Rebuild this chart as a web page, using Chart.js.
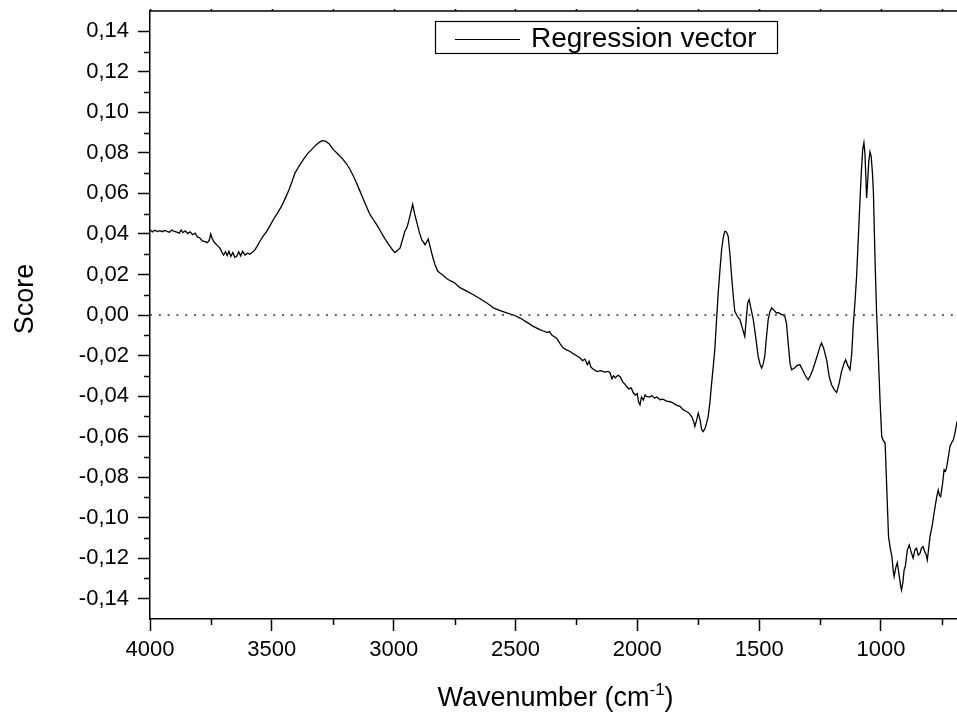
<!DOCTYPE html>
<html>
<head>
<meta charset="utf-8">
<script src="https://cdn.jsdelivr.net/npm/chart.js@4.4.0/dist/chart.umd.min.js"></script>
<style>
  html, body { margin: 0; padding: 0; background: #fff; }
</style>
</head>
<body>
<canvas id="chart" width="957" height="715"></canvas>
<script>
// ── Data ───────────────────────────────────────────────────────────────────

const WAVENUMBER = [
  4000,3990,3980,3970,3960,3950,3940,3930,3920,3910,3900,3890,3880,3872,3865,3855,3845,3835,3825,3815,
  3805,3795,3785,3775,3765,3757,3751,3745,3737,3725,3713,3705,3698,3690,3683,3676,3668,3660,3652,3644,
  3636,3628,3620,3610,3600,3590,3580,3570,3560,3549,3535,3521,3508,3494,3477,3460,3446,3432,3418,3405,
  3388,3371,3354,3336,3320,3305,3294,3280,3265,3248,3228,3207,3193,3179,3165,3152,3138,3124,3110,3097,
  3083,3070,3056,3042,3028,3015,3005,2995,2985,2974,2964,2954,2946,2940,2931,2922,2914,2906,2895,2885,
  2871,2864,2858,2851,2844,2837,2830,2820,2810,2796,2783,2766,2749,2728,2700,2673,2645,2618,2600,2591,
  2563,2536,2508,2481,2454,2427,2400,2385,2372,2360,2350,2331,2318,2304,2290,2276,2262,2250,2235,2225,
  2215,2205,2198,2190,2180,2166,2150,2135,2120,2112,2104,2098,2090,2080,2071,2060,2052,2044,2035,2025,
  2016,2008,2000,1995,1989,1983,1975,1968,1962,1950,1940,1930,1920,1907,1895,1880,1865,1852,1840,1825,
  1811,1800,1790,1784,1775,1768,1764,1757,1750,1742,1736,1730,1722,1715,1709,1702,1695,1688,1682,1675,
  1668,1661,1654,1647,1641,1634,1627,1620,1613,1606,1600,1590,1579,1570,1563,1559,1552,1547,1541,1535,
  1524,1514,1504,1497,1490,1484,1477,1470,1463,1456,1449,1440,1429,1420,1410,1401,1394,1388,1380,1373,
  1367,1355,1345,1333,1320,1310,1299,1290,1280,1271,1260,1250,1244,1235,1223,1213,1203,1192,1182,1172,
  1162,1152,1145,1136,1127,1120,1114,1107,1100,1093,1086,1080,1075,1070,1066,1062,1059,1055,1050,1045,
  1040,1035,1031,1025,1018,1011,1004,997,990,983,976,969,962,955,950,946,940,933,926,920,
  916,910,905,900,892,884,876,868,861,854,847,840,834,827,820,815,810,804,799,790,
  778,770,765,760,755,748,741,735,730,722,717,710,703,696,689,684
];

const SCORE = [
  0.0421,0.0410,0.0418,0.0412,0.0416,0.0411,0.0417,0.0413,0.0408,0.0419,0.0412,0.0409,0.0404,0.0420,0.0407,0.0415,0.0402,0.0410,0.0396,0.0404,
  0.0385,0.0380,0.0366,0.0362,0.0357,0.0368,0.0400,0.0378,0.0360,0.0345,0.0330,0.0310,0.0296,0.0312,0.0293,0.0314,0.0289,0.0308,0.0285,0.0290,
  0.0312,0.0292,0.0314,0.0296,0.0305,0.0300,0.0310,0.0320,0.0340,0.0364,0.0390,0.0413,0.0440,0.0470,0.0503,0.0537,0.0573,0.0610,0.0655,0.0700,
  0.0735,0.0767,0.0795,0.0817,0.0838,0.0852,0.0860,0.0858,0.0845,0.0817,0.0793,0.0767,0.0745,0.0718,0.0685,0.0650,0.0610,0.0570,0.0530,0.0495,
  0.0470,0.0446,0.0418,0.0388,0.0362,0.0339,0.0322,0.0308,0.0318,0.0330,0.0370,0.0413,0.0430,0.0455,0.0500,0.0545,0.0500,0.0462,0.0410,0.0372,
  0.0347,0.0362,0.0375,0.0340,0.0306,0.0275,0.0248,0.0218,0.0207,0.0195,0.0180,0.0168,0.0158,0.0135,0.0118,0.0100,0.0080,0.0059,0.0044,0.0035,
  0.0022,0.0010,0.0000,-0.0015,-0.0035,-0.0056,-0.0072,-0.0079,-0.0086,-0.0083,-0.0100,-0.0114,-0.0140,-0.0163,-0.0172,-0.0180,-0.0192,-0.0200,-0.0212,-0.0225,
  -0.0218,-0.0245,-0.0228,-0.0258,-0.0268,-0.0279,-0.0275,-0.0282,-0.0278,-0.0285,-0.0315,-0.0300,-0.0310,-0.0298,-0.0303,-0.0330,-0.0340,-0.0353,-0.0365,-0.0360,
  -0.0385,-0.0395,-0.0388,-0.0430,-0.0443,-0.0405,-0.0420,-0.0395,-0.0402,-0.0405,-0.0398,-0.0410,-0.0405,-0.0418,-0.0415,-0.0425,-0.0428,-0.0435,-0.0445,-0.0451,
  -0.0468,-0.0475,-0.0482,-0.0490,-0.0505,-0.0530,-0.0550,-0.0520,-0.0484,-0.0520,-0.0565,-0.0575,-0.0560,-0.0530,-0.0500,-0.0430,-0.0336,-0.0250,-0.0171,-0.0030,
  0.0109,0.0220,0.0323,0.0385,0.0413,0.0410,0.0388,0.0300,0.0191,0.0090,0.0018,-0.0005,-0.0023,-0.0060,-0.0090,-0.0106,-0.0007,0.0060,0.0076,0.0040,
  -0.0023,-0.0110,-0.0204,-0.0240,-0.0262,-0.0245,-0.0204,-0.0110,-0.0023,0.0015,0.0035,0.0025,0.0010,0.0012,0.0003,0.0001,-0.0010,-0.0040,-0.0150,-0.0240,
  -0.0270,-0.0262,-0.0250,-0.0245,-0.0275,-0.0300,-0.0320,-0.0300,-0.0270,-0.0237,-0.0195,-0.0155,-0.0138,-0.0165,-0.0221,-0.0300,-0.0344,-0.0368,-0.0382,-0.0340,
  -0.0279,-0.0240,-0.0221,-0.0250,-0.0270,-0.0190,-0.0056,0.0060,0.0191,0.0380,0.0570,0.0720,0.0817,0.0850,0.0800,0.0680,0.0578,0.0650,0.0760,0.0805,
  0.0780,0.0700,0.0603,0.0300,0.0010,-0.0200,-0.0418,-0.0600,-0.0620,-0.0632,-0.0863,-0.1094,-0.1150,-0.1193,-0.1260,-0.1291,-0.1250,-0.1222,-0.1280,-0.1330,
  -0.1357,-0.1320,-0.1258,-0.1240,-0.1160,-0.1135,-0.1170,-0.1200,-0.1160,-0.1151,-0.1185,-0.1176,-0.1150,-0.1143,-0.1170,-0.1180,-0.1209,-0.1150,-0.1094,-0.1040,
  -0.0946,-0.0890,-0.0863,-0.0890,-0.0896,-0.0840,-0.0764,-0.0770,-0.0748,-0.0690,-0.0649,-0.0630,-0.0616,-0.0580,-0.0533,-0.0515
];

const X_MIN = 688;
const X_MAX = 4000;
const Y_MIN = -0.15;
const Y_MAX = 0.15;

const X_TICKS = [4000, 3500, 3000, 2500, 2000, 1500, 1000];
const X_MINOR = [3750, 3250, 2750, 2250, 1750, 1250, 750];
const Y_TICKS = [-0.14,-0.12,-0.10,-0.08,-0.06,-0.04,-0.02,0.00,0.02,0.04,0.06,0.08,0.10,0.12,0.14];
const Y_MINOR = [-0.13,-0.11,-0.09,-0.07,-0.05,-0.03,-0.01,0.01,0.03,0.05,0.07,0.09,0.11,0.13];

const SERIES_LABEL = "Regression vector";
const X_TITLE = "Wavenumber (cm";
const X_TITLE_SUP = "-1";
const Y_TITLE = "Score";

const FONT = "'Liberation Sans', Arial, sans-serif";

// ── Extra drawing: frame, minor ticks, titles, legend ─────────────────────

const decorations = {
  id: "decorations",
  afterDraw(chart) {
    const { ctx, chartArea: a, scales: { x, y } } = chart;
    ctx.save();
    ctx.strokeStyle = "#000";
    ctx.fillStyle = "#000";

    // top frame
    ctx.lineWidth = 1.5;
    ctx.beginPath();
    ctx.moveTo(a.left, a.top);
    ctx.lineTo(a.right, a.top);
    ctx.stroke();

    // minor ticks + small top ticks
    ctx.lineWidth = 1.5;
    ctx.beginPath();
    X_MINOR.forEach(v => {
      const px = Math.round(x.getPixelForValue(v)) + 0.5;
      if (px > a.right) return;
      ctx.moveTo(px, a.bottom);
      ctx.lineTo(px, a.bottom + 6);
    });
    X_TICKS.concat(X_MINOR).forEach(v => {
      const px = Math.round(x.getPixelForValue(v)) + 0.5;
      if (px > a.right) return;
      ctx.moveTo(px, a.top);
      ctx.lineTo(px, a.top - 2);
    });
    Y_MINOR.forEach(v => {
      const py = Math.round(y.getPixelForValue(v)) + 0.5;
      ctx.moveTo(a.left, py);
      ctx.lineTo(a.left - 6, py);
    });
    ctx.stroke();

    // y title
    ctx.font = `27px ${FONT}`;
    ctx.textAlign = "center";
    ctx.textBaseline = "alphabetic";
    ctx.save();
    ctx.translate(33, 299);
    ctx.rotate(-Math.PI / 2);
    ctx.fillText(Y_TITLE, 0, 0);
    ctx.restore();

    // x title with superscript
    ctx.textAlign = "left";
    const mainFont = `27px ${FONT}`;
    const supFont  = `17px ${FONT}`;
    ctx.font = mainFont;
    const w1 = ctx.measureText(X_TITLE).width;
    const w3 = ctx.measureText(")").width;
    ctx.font = supFont;
    const w2 = ctx.measureText(X_TITLE_SUP).width;
    const cx = (a.left + a.right) / 2 + 2;
    let tx = cx - (w1 + w2 + w3) / 2;
    const base = 706;
    ctx.font = mainFont;
    ctx.fillText(X_TITLE, tx, base);
    tx += w1;
    ctx.font = supFont;
    ctx.fillText(X_TITLE_SUP, tx, base - 11);
    tx += w2;
    ctx.font = mainFont;
    ctx.fillText(")", tx, base);

    // legend box
    ctx.lineWidth = 1.2;
    ctx.fillStyle = "#fff";
    ctx.fillRect(435, 21, 342, 32);
    ctx.strokeRect(435.5, 21.5, 342, 32);
    ctx.lineWidth = 1;
    ctx.beginPath();
    ctx.moveTo(455, 39.5);
    ctx.lineTo(520, 39.5);
    ctx.stroke();
    ctx.fillStyle = "#000";
    ctx.font = `28px ${FONT}`;
    ctx.fillText(SERIES_LABEL, 531, 47);

    ctx.restore();
  },
};

// ── Chart ──────────────────────────────────────────────────────────────────

function fmtY(v) {
  return v.toFixed(2).replace(".", ",").replace("-0,00", "0,00");
}

function initChart() {
  const ctx = document.getElementById("chart").getContext("2d");
  const points = WAVENUMBER.map((w, i) => ({ x: w, y: SCORE[i] }));
  const zero = [{ x: X_MAX, y: 0 }, { x: X_MIN, y: 0 }];

  new Chart(ctx, {
    type: "line",
    data: {
      datasets: [
        { label: "zero", data: zero, borderColor: "#333", borderWidth: 1.6, borderDash: [2, 6.8], pointRadius: 0 },
        { label: SERIES_LABEL, data: points, borderColor: "#000", borderWidth: 1.3, pointRadius: 0, tension: 0 },
      ],
    },
    options: {
      responsive: false,
      animation: false,
      devicePixelRatio: 1,
      layout: { padding: { top: 11, left: 0, right: 0, bottom: 0 } },
      plugins: { legend: { display: false }, tooltip: { enabled: false } },
      scales: {
        x: {
          type: "linear",
          reverse: true,
          min: X_MIN,
          max: X_MAX,
          afterBuildTicks: s => { s.ticks = X_TICKS.map(v => ({ value: v })); },
          afterFit: s => { s.height = 96; s.paddingLeft = 0; s.paddingRight = 0; },
          ticks: { color: "#000", font: { family: FONT, size: 22 }, padding: 6, maxRotation: 0, autoSkip: false,
                   callback: v => String(v) },
          grid: { display: true, drawOnChartArea: false, drawTicks: true, tickLength: 12, tickWidth: 1.5, color: "#000" },
          border: { display: true, color: "#000", width: 1.5 },
        },
        y: {
          min: Y_MIN,
          max: Y_MAX,
          afterBuildTicks: s => { s.ticks = Y_TICKS.map(v => ({ value: v })); },
          afterFit: s => { s.width = 150; s.paddingTop = 0; s.paddingBottom = 0; },
          ticks: { color: "#000", font: { family: FONT, size: 22 }, padding: 9, autoSkip: false, callback: v => fmtY(v) },
          grid: { display: true, drawOnChartArea: false, drawTicks: true, tickLength: 12, tickWidth: 1.5, color: "#000" },
          border: { display: true, color: "#000", width: 1.5 },
        },
      },
    },
    plugins: [decorations],
  });
}

initChart();
</script>
</body>
</html>
